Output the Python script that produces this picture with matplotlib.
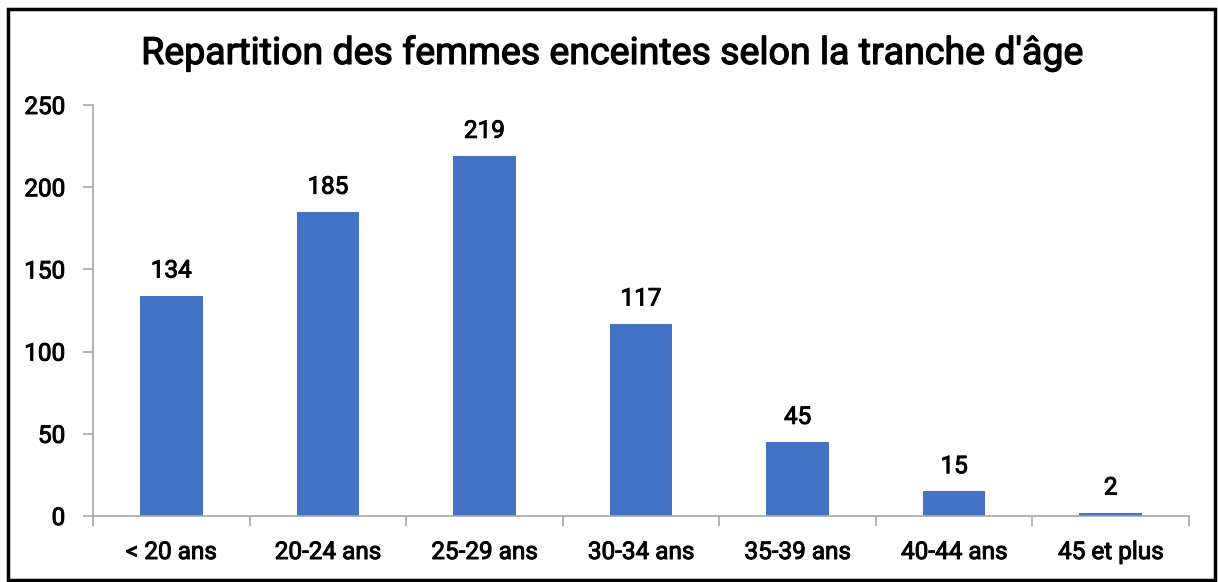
import matplotlib
matplotlib.use("Agg")
import matplotlib.pyplot as plt
import matplotlib.patheffects as pe
from matplotlib.patches import Rectangle

categories = ["< 20 ans", "20-24 ans", "25-29 ans", "30-34 ans", "35-39 ans", "40-44 ans", "45 et plus"]
values = [134, 185, 219, 117, 45, 15, 2]
yticks = [0, 50, 100, 150, 200, 250]
title = "Repartition des femmes enceintes selon la tranche d'âge"

plt.rcParams['font.family'] = ['Roboto', 'DejaVu Sans']

W, H = 1218, 582
fig = plt.figure(figsize=(W / 100, H / 100), dpi=100)
ax = fig.add_axes([93 / W, 1 - 516 / H, (1189 - 93) / W, (516 - 105) / H])

FS = 17.5
WT = "normal"
thick = [pe.withStroke(linewidth=0.7, foreground="black")]

x = list(range(len(categories)))
bars = ax.bar(x, values, width=0.40, color="#4472C4", zorder=2)
for xi, v in zip(x, values):
    ax.text(xi, v + 8, str(v), ha="center", va="bottom", fontsize=FS, fontweight=WT, color="black",
            path_effects=thick)

ax.set_xlim(-0.5, len(categories) - 0.5)
ax.set_ylim(0, 250)
ax.set_yticks(yticks)
ax.set_yticklabels([str(t) for t in yticks], fontsize=FS, fontweight=WT, path_effects=thick)
ax.set_xticks(x)
ax.set_xticklabels(categories, fontsize=FS, fontweight=WT, path_effects=thick)
ax.tick_params(axis="x", length=0, pad=18)
ax.set_xticks([i - 0.5 for i in range(len(categories) + 1)], minor=True)
ax.tick_params(axis="x", which="minor", length=7, color="#A6A6A6", width=1.2)
ax.tick_params(axis="y", length=7, color="#A6A6A6", width=1.2, pad=13)

for s in ["top", "right"]:
    ax.spines[s].set_visible(False)
for s in ["left", "bottom"]:
    ax.spines[s].set_color("#A6A6A6")
    ax.spines[s].set_linewidth(1.2)

fig.text(612 / W, 1 - 53 / H, title, ha="center", va="center", fontsize=27, fontweight=WT,
         path_effects=[pe.withStroke(linewidth=0.9, foreground="black")])

fig.patches.append(Rectangle((8 / W, 2 / H), (1214.5 - 8) / W, 571.5 / H, transform=fig.transFigure,
                             fill=False, edgecolor="black", linewidth=2.5))

fig.savefig("out.png", dpi=100)
